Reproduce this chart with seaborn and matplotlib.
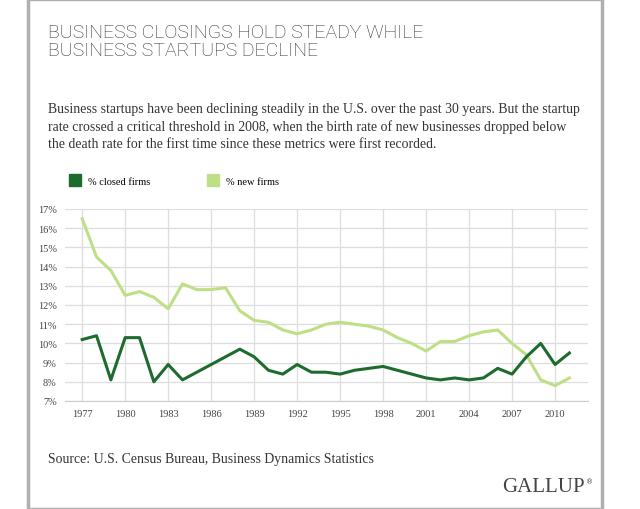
import matplotlib
matplotlib.use("Agg")
import matplotlib.pyplot as plt
import seaborn as sns
import pandas as pd
from matplotlib.lines import Line2D
from matplotlib.patches import Rectangle

years = list(range(1977, 2012))
new_firms = [16.5, 14.5, 13.8, 12.5, 12.7, 12.4, 11.8, 13.1, 12.8, 12.8, 12.9, 11.7,
             11.2, 11.1, 10.7, 10.5, 10.7, 11.0, 11.1, 11.0, 10.9, 10.7, 10.3, 10.0,
             9.6, 10.1, 10.1, 10.4, 10.6, 10.7, 10.0, 9.4, 8.1, 7.8, 8.2]
closed_firms = [10.2, 10.4, 8.1, 10.3, 10.3, 8.0, 8.9, 8.1, 8.5, 8.9, 9.3, 9.7,
                9.3, 8.6, 8.4, 8.9, 8.5, 8.5, 8.4, 8.6, 8.7, 8.8, 8.6, 8.4,
                8.2, 8.1, 8.2, 8.1, 8.2, 8.7, 8.4, 9.3, 10.0, 8.9, 9.5]
xticks = list(range(1977, 2011, 3))
yticks = list(range(7, 18))

dark = "#1e6b2e"
light = "#bfdf86"
df = pd.DataFrame({"year": years, "new": new_firms, "closed": closed_firms})

fig = plt.figure(figsize=(6.4, 5.1), dpi=100)
fig.patches.append(Rectangle((28/640, 0.0), (602-28)/640, 1.0, transform=fig.transFigure,
                             fill=False, edgecolor="#b0b0b0", lw=2.5))
ax = fig.add_axes([65/640, 1-402/510, (588-65)/640, (402-210)/510])
sns.lineplot(data=df, x="year", y="new", color=light, lw=2.2, ax=ax)
sns.lineplot(data=df, x="year", y="closed", color=dark, lw=2.2, ax=ax)
ax.set_xlim(1975.8, 2012.3)
ax.set_ylim(7, 17)
ax.set_xticks(xticks)
ax.set_yticks(yticks)
ax.set_yticklabels([f"{v}%" for v in yticks])
ax.grid(True, color="#dddddd", lw=0.9)
ax.set_axisbelow(True)
for s in ["top", "right", "left"]:
    ax.spines[s].set_visible(False)
ax.spines["bottom"].set_color("#cccccc")
ax.tick_params(length=0, labelsize=7.5, colors="#444444", pad=6)
for t in ax.get_xticklabels() + ax.get_yticklabels():
    t.set_fontfamily("Liberation Serif")
ax.set_xlabel(""); ax.set_ylabel("")

fig.text(48/640, 1-42/510, "BUSINESS CLOSINGS HOLD STEADY WHILE\nBUSINESS STARTUPS DECLINE",
         fontsize=14, family="Roboto", fontweight="light", color="#333333",
         va="center", linespacing=1.05)
fig.text(48/640, 1-127/510,
         "Business startups have been declining steadily in the U.S. over the past 30 years. But the startup\n"
         "rate crossed a critical threshold in 2008, when the birth rate of new businesses dropped below\n"
         "the death rate for the first time since these metrics were first recorded.",
         fontsize=9.9, family="Liberation Serif", color="#333333", va="center", linespacing=1.4)
h = [Line2D([], [], marker="s", ls="", color=dark, markersize=8),
     Line2D([], [], marker="s", ls="", color=light, markersize=8)]
fig.legend(h, ["% closed firms", "% new firms"], loc="center left",
           bbox_to_anchor=(60/640, 1-182/510), ncol=2, frameon=False,
           prop={"family": "Liberation Serif", "size": 7.5}, handletextpad=0.3,
           columnspacing=5, borderaxespad=0)
fig.text(48/640, 1-460/510, "Source: U.S. Census Bureau, Business Dynamics Statistics",
         fontsize=9.9, family="Liberation Serif", color="#333333", va="center")
fig.text(585/640, 1-487/510, "GALLUP", fontsize=15, family="Liberation Serif",
         color="#444444", ha="right", va="center")
fig.text(586/640, 1-482/510, "®", fontsize=5, color="#444444", va="center")
fig.savefig("out.png", dpi=100)
